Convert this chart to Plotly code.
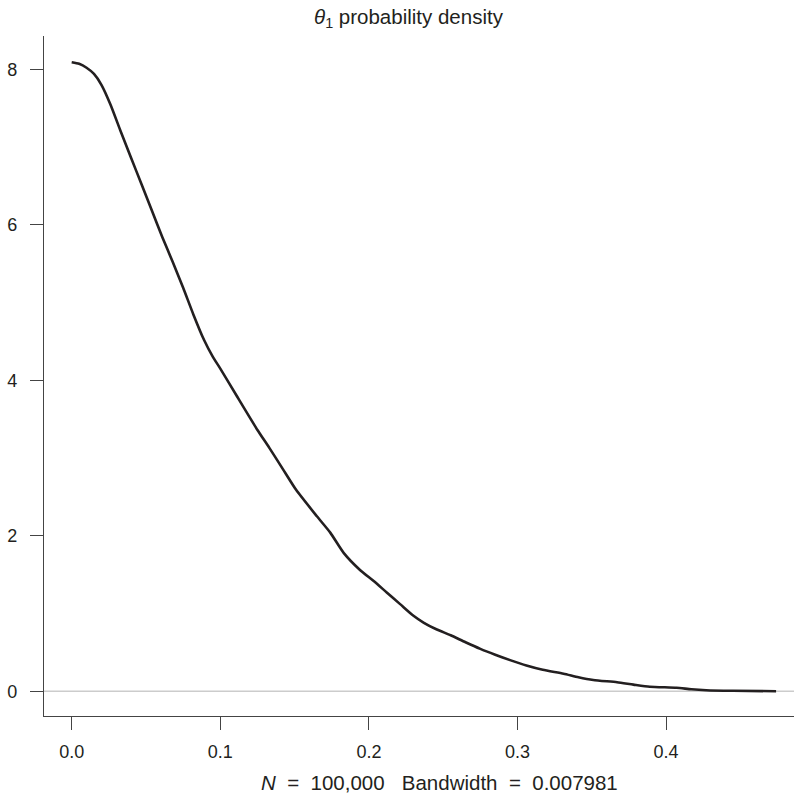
import plotly.graph_objects as go

# density curve
theta = [0.000, 0.005, 0.010, 0.015, 0.020, 0.026, 0.033, 0.040, 0.047, 0.054,
         0.061, 0.068, 0.075, 0.082, 0.089, 0.095, 0.100, 0.111, 0.125, 0.133,
         0.142, 0.151, 0.165, 0.174, 0.183, 0.194, 0.203, 0.212, 0.221, 0.230,
         0.237, 0.245, 0.255, 0.265, 0.275, 0.285, 0.295, 0.306, 0.317, 0.331,
         0.341, 0.351, 0.367, 0.378, 0.389, 0.407, 0.417, 0.427, 0.445, 0.474]
density = [8.09, 8.07, 8.02, 7.94, 7.80, 7.55, 7.20, 6.86, 6.52, 6.18,
           5.84, 5.52, 5.19, 4.84, 4.52, 4.30, 4.15, 3.80, 3.36, 3.13,
           2.86, 2.59, 2.25, 2.04, 1.78, 1.56, 1.42, 1.27, 1.12, 0.97,
           0.88, 0.80, 0.72, 0.63, 0.545, 0.47, 0.40, 0.33, 0.275, 0.225,
           0.18, 0.145, 0.115, 0.085, 0.058, 0.044, 0.025, 0.013, 0.005, 0.0]

x_ticks = [0.0, 0.1, 0.2, 0.3, 0.4]
x_tick_labels = ["0.0", "0.1", "0.2", "0.3", "0.4"]
y_ticks = [0, 2, 4, 6, 8]
y_tick_labels = ["0", "2", "4", "6", "8"]

title_text = "<i>θ</i><sub>1</sub> probability density"
nb = "\u00a0"
subtitle_text = f"<i>N</i>{nb}{nb}={nb}{nb}100,000{nb}{nb}{nb}Bandwidth{nb}{nb}={nb}{nb}0.007981"

fig = go.Figure()
fig.add_trace(go.Scatter(x=theta, y=density, mode="lines",
                         line=dict(color="#231f20", width=2.6, shape="spline", smoothing=0.6),
                         hoverinfo="skip", showlegend=False))

fig.add_shape(type="line", xref="paper", yref="y", x0=0, x1=1, y0=0, y1=0,
              line=dict(color="#cccccc", width=1.5), layer="below")

axis_color = "#444444"
font_family = "Liberation Sans, Arial, sans-serif"

fig.update_layout(
    width=794, height=794,
    margin=dict(l=44, r=0, t=36, b=77.5),
    paper_bgcolor="white", plot_bgcolor="white",
    font=dict(family=font_family, size=18, color="#231f20"),
    xaxis=dict(range=[-0.01864, 0.48606], tickvals=x_ticks, ticktext=x_tick_labels,
               showgrid=False, zeroline=False, showline=True, linecolor=axis_color, linewidth=1.3,
               ticks="outside", ticklen=13, tickwidth=1.2, tickcolor=axis_color,
               ticklabelstandoff=6, tickfont=dict(size=18)),
    yaxis=dict(range=[-0.319, 8.428], tickvals=y_ticks, ticktext=y_tick_labels,
               showgrid=False, zeroline=False, showline=True, linecolor=axis_color, linewidth=1.3,
               ticks="outside", ticklen=13, tickwidth=1.2, tickcolor=axis_color,
               ticklabelstandoff=9, tickfont=dict(size=18)),
    annotations=[
        dict(text=title_text, xref="paper", yref="paper", x=0.4867, y=1.0264,
             xanchor="center", yanchor="middle", showarrow=False,
             font=dict(size=20.5, family=font_family, color="#231f20")),
        dict(text=subtitle_text, xref="paper", yref="paper", x=0.5267, y=-0.0977,
             xanchor="center", yanchor="middle", showarrow=False,
             font=dict(size=20.5, family=font_family, color="#231f20")),
    ],
)

fig.write_html("out.html", config={"displayModeBar": False},
               post_script="document.body.style.margin='0px';")
